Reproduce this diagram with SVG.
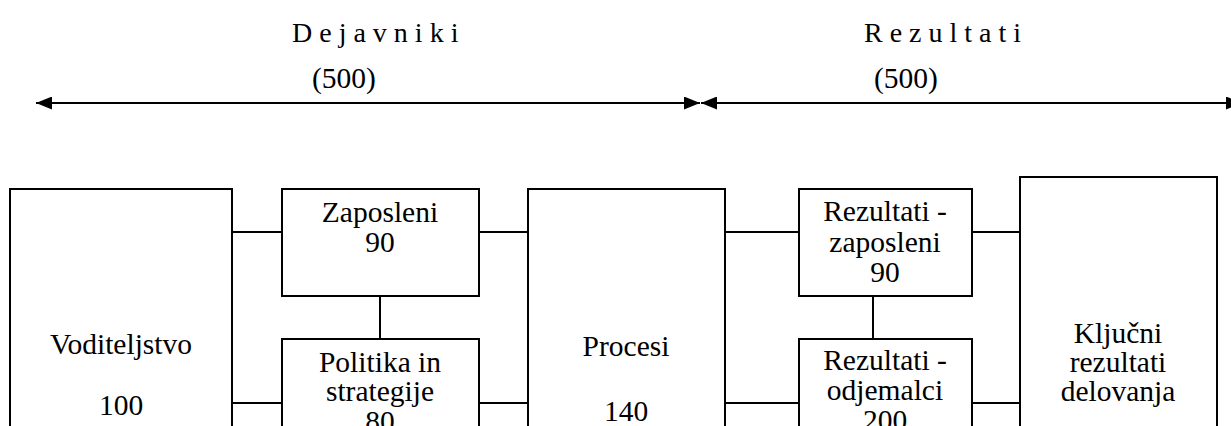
<svg xmlns="http://www.w3.org/2000/svg" width="1231" height="426" viewBox="0 0 1231 426">
  <defs>
    <marker id="head" viewBox="0 0 16 13" refX="16" refY="6.5" markerWidth="16" markerHeight="13" markerUnits="userSpaceOnUse" orient="auto-start-reverse">
      <path d="M0,0 L16,6.5 L0,13 Z" fill="#000"/>
    </marker>
    <style>
      .box { fill: #fff; stroke: #000; stroke-width: 2; }
      .link { stroke: #000; stroke-width: 2; fill: none; }
      .span { stroke: #000; stroke-width: 2; fill: none; marker-start: url(#head); marker-end: url(#head); }
      text { font-family: "Liberation Serif", "Times New Roman", serif; font-size: 29.5px; fill: #000; }
      .c { text-anchor: middle; }
      .spaced { font-size: 28px; letter-spacing: 7px; }
    </style>
  </defs>

  <!-- headings over the two halves -->
  <g id="heading-enablers">
    <text x="292" y="42" class="spaced">Dejavniki</text>
    <text x="344" y="88" class="c">(500)</text>
  </g>
  <g id="heading-results">
    <text x="864" y="42" class="spaced">Rezultati</text>
    <text x="906" y="88" class="c">(500)</text>
  </g>

  <!-- connectors -->
  <g id="connectors">
    <line class="span" x1="36" y1="103" x2="700" y2="103"/>
    <line class="span" x1="701" y1="103" x2="1242" y2="103"/>

    <line class="link" x1="232" y1="232" x2="282" y2="232"/>
    <line class="link" x1="232" y1="403" x2="282" y2="403"/>
    <line class="link" x1="380" y1="296" x2="380" y2="339"/>
    <line class="link" x1="479" y1="232" x2="528" y2="232"/>
    <line class="link" x1="479" y1="403" x2="528" y2="403"/>
    <line class="link" x1="725" y1="232" x2="799" y2="232"/>
    <line class="link" x1="725" y1="403" x2="799" y2="403"/>
    <line class="link" x1="873" y1="296" x2="873" y2="339"/>
    <line class="link" x1="972" y1="232" x2="1020" y2="232"/>
    <line class="link" x1="972" y1="403" x2="1020" y2="403"/>
  </g>

  <g id="voditeljstvo">
    <rect class="box" x="10" y="189" width="222" height="260"/>
    <text x="121" y="354" class="c">Voditeljstvo</text>
    <text x="121" y="415" class="c">100</text>
  </g>

  <g id="zaposleni">
    <rect class="box" x="282" y="189" width="197" height="107"/>
    <text x="380" y="222" class="c">Zaposleni</text>
    <text x="380" y="252" class="c">90</text>
  </g>

  <g id="politika">
    <rect class="box" x="282" y="339" width="197" height="110"/>
    <text x="380" y="372" class="c">Politika in</text>
    <text x="380" y="401" class="c">strategije</text>
    <text x="380" y="431" class="c">80</text>
  </g>

  <g id="procesi">
    <rect class="box" x="528" y="189" width="197" height="260"/>
    <text x="626" y="356" class="c">Procesi</text>
    <text x="626" y="421" class="c">140</text>
  </g>

  <g id="rezultati-zaposleni">
    <rect class="box" x="799" y="189" width="173" height="107"/>
    <text x="885" y="221" class="c">Rezultati -</text>
    <text x="885" y="252" class="c">zaposleni</text>
    <text x="885" y="282" class="c">90</text>
  </g>

  <g id="rezultati-odjemalci">
    <rect class="box" x="799" y="339" width="173" height="110"/>
    <text x="885" y="370" class="c">Rezultati -</text>
    <text x="885" y="400" class="c">odjemalci</text>
    <text x="885" y="430" class="c">200</text>
  </g>

  <g id="kljucni-rezultati">
    <rect class="box" x="1020" y="177" width="197" height="272"/>
    <text x="1118" y="343" class="c">Ključni</text>
    <text x="1118" y="372" class="c">rezultati</text>
    <text x="1118" y="401" class="c">delovanja</text>
  </g>
</svg>
